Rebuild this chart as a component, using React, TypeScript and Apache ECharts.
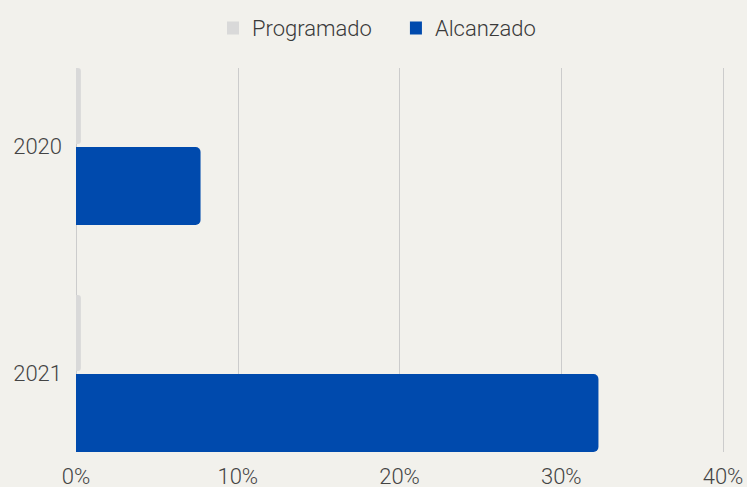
import React, { useEffect, useRef } from "react";
import * as echarts from "echarts";

const categories = ["2020", "2021"];
const programado = [0.3, 0.3];
const alcanzado = [7.7, 32.3];
const xTicks = { min: 0, max: 40, interval: 10 };

export default function App() {
  const ref = useRef<HTMLDivElement>(null);
  useEffect(() => {
    const chart = echarts.init(ref.current!, null, { renderer: "svg" });
    const font = "Roboto";
    chart.setOption({
      animation: false,
      backgroundColor: "#F2F1EC",
      textStyle: { fontFamily: font },
      legend: {
        top: 12,
        left: 222,
        itemWidth: 12,
        itemHeight: 13,
        itemGap: 38,
        icon: "rect",
        textStyle: {
          fontSize: 22,
          color: "#3A3A3A",
          fontWeight: 300,
          fontFamily: font,
          padding: [0, 0, 0, 8],
        },
        data: ["Programado", "Alcanzado"],
      },
      grid: [
        { left: 76, right: 24, top: 68, bottom: 35 },
        { left: 76, right: 24, top: 33, bottom: -1 },
      ],
      xAxis: [
        {
          type: "value",
          gridIndex: 0,
          min: xTicks.min,
          max: xTicks.max,
          interval: xTicks.interval,
          axisLine: { show: false },
          axisTick: { show: false },
          splitLine: { lineStyle: { color: "#CCCCCC", width: 1 } },
          axisLabel: {
            formatter: "{value}%",
            fontSize: 22,
            color: "#444",
            fontWeight: 300,
            margin: 13,
            fontFamily: font,
          },
        },
        {
          type: "value",
          gridIndex: 1,
          min: xTicks.min,
          max: xTicks.max,
          interval: xTicks.interval,
          show: false,
          splitLine: { show: false },
        },
      ],
      yAxis: [
        {
          type: "category",
          gridIndex: 0,
          data: categories,
          show: false,
        },
        {
          type: "category",
          gridIndex: 1,
          data: categories,
          inverse: true,
          axisLine: { show: false },
          axisTick: { show: false },
          axisLabel: {
            fontSize: 22,
            color: "#444",
            fontWeight: 300,
            margin: 14,
            fontFamily: font,
          },
        },
      ],
      series: [
        {
          name: "Programado",
          type: "bar",
          xAxisIndex: 1,
          yAxisIndex: 1,
          data: programado,
          barWidth: 76,
          barGap: "4%",
          itemStyle: { color: "#D9D9D9", borderRadius: [0, 3, 3, 0] },
        },
        {
          name: "Alcanzado",
          type: "bar",
          xAxisIndex: 1,
          yAxisIndex: 1,
          data: alcanzado,
          barWidth: 78,
          barGap: "4%",
          itemStyle: { color: "#004AAD", borderRadius: [0, 5, 5, 0] },
        },
      ],
    });
    return () => chart.dispose();
  }, []);
  return (
    <div
      ref={ref}
      style={{ position: "fixed", left: 0, top: 0, width: 747, height: 487 }}
    />
  );
}
